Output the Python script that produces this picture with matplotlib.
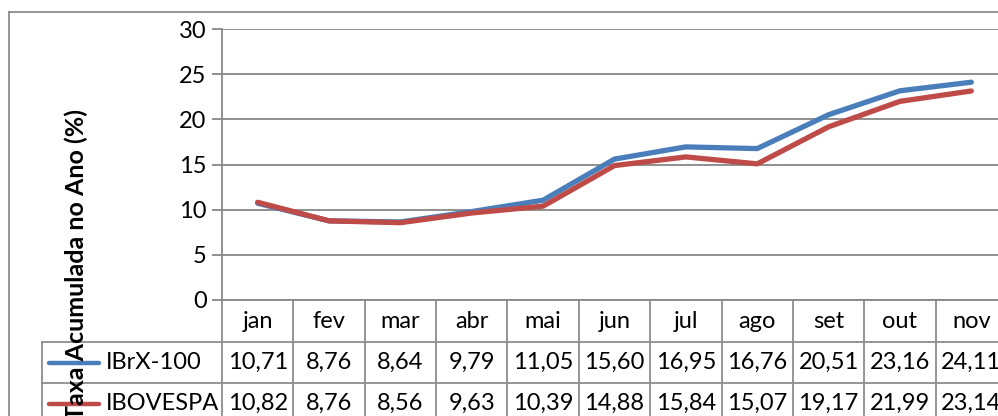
import matplotlib.pyplot as plt
from matplotlib.lines import Line2D
from matplotlib.transforms import blended_transform_factory

# dados
meses = ['jan', 'fev', 'mar', 'abr', 'mai', 'jun', 'jul', 'ago', 'set', 'out', 'nov']
ibrx = [10.71, 8.76, 8.64, 9.79, 11.05, 15.60, 16.95, 16.76, 20.51, 23.16, 24.11]
ibov = [10.82, 8.76, 8.56, 9.63, 10.39, 14.88, 15.84, 15.07, 19.17, 21.99, 23.14]
series = [('IBrX-100', ibrx, '#4A7EBB'), ('IBOVESPA', ibov, '#BE4B48')]

plt.rcParams['font.family'] = ['Lato', 'DejaVu Sans']
FS = 17

W, H = 998, 416
fig = plt.figure(figsize=(W / 100, H / 100), dpi=100)

# area do grafico (passa da borda direita, como no original recortado)
x0, x1, ytop, ybot = 222, 1007, 29, 300
ax = fig.add_axes([x0 / W, 1 - ybot / H, (x1 - x0) / W, (ybot - ytop) / H])
ax.set_xlim(-0.5, len(meses) - 0.5)
ax.set_ylim(0, 30)
ax.set_yticks(range(0, 31, 5))
ax.set_xticks([])
ax.grid(axis='y', color='#878787', lw=1.3)
ax.set_axisbelow(True)
for s in ['top', 'right']:
    ax.spines[s].set_visible(False)
for s in ['left', 'bottom']:
    ax.spines[s].set_color('#878787')
    ax.spines[s].set_linewidth(1.3)
ax.tick_params(axis='y', length=7, width=1.3, color='#878787', labelsize=FS, pad=4)

xs = list(range(len(meses)))
for nome, vals, cor in series:
    ax.plot(xs, vals, color=cor, lw=3.8, solid_capstyle='round', solid_joinstyle='round')

# tabela de dados
gray = '#8c8c8c'
ppx = 1.0 / (ybot - ytop)  # pixel -> fracao do eixo (vertical)


def yax(py):
    return (ybot - py) * ppx


def xfig(px):
    return px / W


tr = blended_transform_factory(ax.transData, ax.transAxes)
rows = [300, 342, 383, 424]
for i in range(len(meses) + 1):
    ax.add_line(Line2D([i - 0.5, i - 0.5], [yax(rows[0]), yax(rows[-1])], transform=tr,
                       color=gray, lw=1.3, clip_on=False))
for r in rows[1:]:
    fig.add_artist(Line2D([xfig(42), 1.0], [1 - r / H, 1 - r / H], color=gray, lw=1.3))
fig.add_artist(Line2D([xfig(42), xfig(42)], [1 - rows[1] / H, 0], color=gray, lw=1.3))

for i, m in enumerate(meses):
    ax.text(i, yax((rows[0] + rows[1]) / 2), m, transform=tr, ha='center', va='center',
            fontsize=FS, clip_on=False)
for k, (nome, vals, cor) in enumerate(series):
    yc = (rows[k + 1] + rows[k + 2]) / 2
    for i, v in enumerate(vals):
        ax.text(i, yax(yc), f'{v:.2f}'.replace('.', ','), transform=tr, ha='center',
                va='center', fontsize=FS, clip_on=False)
    fig.add_artist(Line2D([xfig(49), xfig(99)], [1 - yc / H, 1 - yc / H], color=cor, lw=3.2,
                          solid_capstyle='round'))
    fig.text(xfig(106), 1 - yc / H, nome, ha='left', va='center', fontsize=FS)

# titulo do eixo y
fig.text(xfig(76), 1 - 264 / H, 'Taxa Acumulada no Ano (%)', rotation=90, ha='center',
         va='center', fontsize=18, fontweight='bold')

# borda externa
fig.add_artist(Line2D([xfig(9), xfig(9)], [1 - 12 / H, 0], color=gray, lw=1.3))
fig.add_artist(Line2D([xfig(9), 1.0], [1 - 12 / H, 1 - 12 / H], color=gray, lw=1.3))

fig.savefig('out.png', dpi=100)
